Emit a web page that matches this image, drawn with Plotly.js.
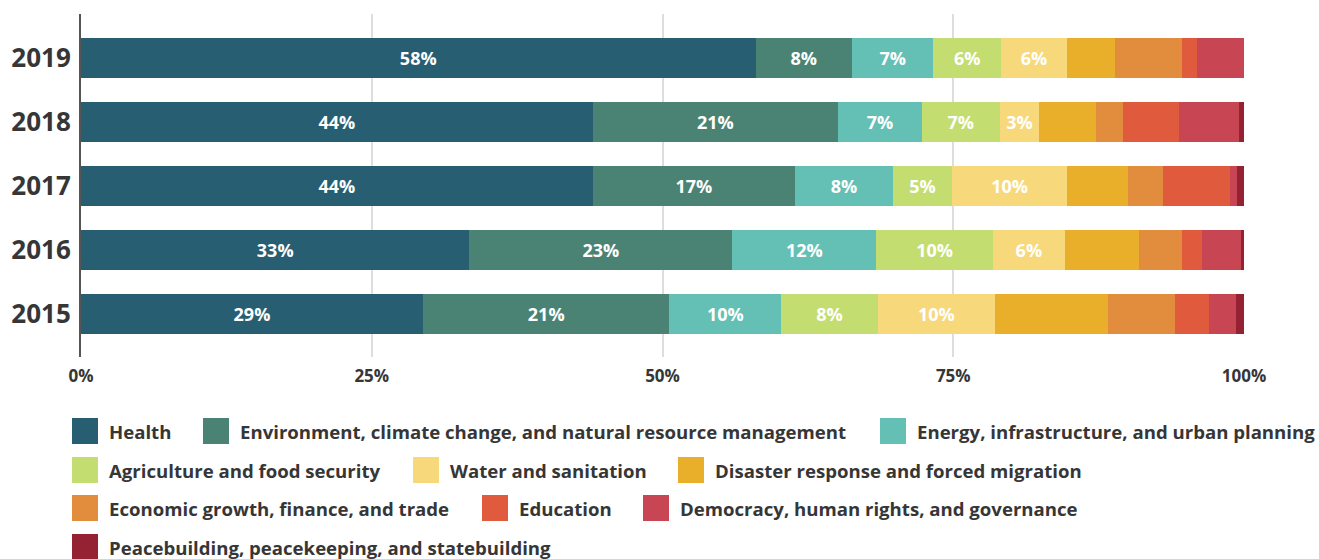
<!DOCTYPE html>
<html>
<head>
<meta charset="utf-8">
<script src="https://cdn.plot.ly/plotly-3.0.1.min.js"></script>
<style>
  html, body { margin: 0; padding: 0; background: #ffffff; }
  #chart { width: 1319px; height: 559px; }
</style>
</head>
<body>
<div id="chart"></div>
<script>
// ---- Data (years bottom to top) ----
const years = ["2015", "2016", "2017", "2018", "2019"];

const seriesNames = [
  "Health",
  "Environment, climate change, and natural resource management",
  "Energy, infrastructure, and urban planning",
  "Agriculture and food security",
  "Water and sanitation",
  "Disaster response and forced migration",
  "Economic growth, finance, and trade",
  "Education",
  "Democracy, human rights, and governance",
  "Peacebuilding, peacekeeping, and statebuilding"
];

const health      = [29.4, 33.4, 44.0, 44.0, 58.0];
const environment = [21.2, 22.6, 17.4, 21.1, 8.3];
const energy      = [9.6, 12.4, 8.4, 7.2, 7.0];
const agriculture = [8.3, 10.0, 5.1, 6.7, 5.8];
const water       = [10.1, 6.2, 9.9, 3.4, 5.7];
const disaster    = [9.7, 6.4, 5.2, 4.9, 4.1];
const economic    = [5.8, 3.7, 3.0, 2.3, 5.8];
const education   = [2.9, 1.7, 5.8, 4.8, 1.3];
const democracy   = [2.3, 3.3, 0.6, 5.2, 4.0];
const peace       = [0.7, 0.3, 0.6, 0.4, 0.0];

const seriesValues = [health, environment, energy, agriculture, water,
                      disaster, economic, education, democracy, peace];

const colors = ["#275e72", "#4a8373", "#64bfb4", "#c3dd70", "#f7d87b",
                "#e9af2b", "#e28c3d", "#e05a3d", "#c84554", "#952232"];

// only the first five series carry labels
const labelled = [true, true, true, true, true, false, false, false, false, false];

const xTicks = [0, 25, 50, 75, 100];

// ---- Layout geometry (pixels) ----
const W = 1319, H = 559;
const plotLeft = 81, plotRight = 1244, plotTop = 14, plotBottom = 357;
const FONT = "Open Sans, Noto Sans, sans-serif";
const TEXT_COLOR = "#363636";

const traces = seriesNames.map((name, i) => ({
  type: "bar",
  orientation: "h",
  name: name,
  y: years,
  x: seriesValues[i],
  width: 0.625,
  marker: { color: colors[i], line: { width: 0 } },
  texttemplate: labelled[i] ? "%{x:.0f}%" : "",
  textposition: labelled[i] ? "inside" : "none",
  insidetextanchor: "middle",
  constraintext: "none",
  textangle: 0,
  textfont: { family: FONT, size: 18, color: "#ffffff", weight: 700 },
  hoverinfo: "name+x",
  showlegend: false
}));

// ---- Custom legend (swatch + label) ----
const legendItems = [
  // [seriesIndex, swatchLeftPx, rowCenterPx]
  [0, 72, 431], [1, 203, 431], [2, 880, 431],
  [3, 72, 470], [4, 413, 470], [5, 678, 470],
  [6, 72, 508], [7, 482, 508], [8, 643, 508],
  [9, 72, 547]
];
const px2x = px => (px - plotLeft) / (plotRight - plotLeft);
const px2y = py => (plotBottom - py) / (plotBottom - plotTop);
const SW = 26;

const shapes = legendItems.map(([i, left, cy]) => ({
  type: "rect", xref: "paper", yref: "paper",
  x0: px2x(left), x1: px2x(left + SW),
  y0: px2y(cy + SW / 2), y1: px2y(cy - SW / 2),
  fillcolor: colors[i], line: { width: 0 }, layer: "above"
}));

const annotations = legendItems.map(([i, left, cy]) => ({
  xref: "paper", yref: "paper",
  x: px2x(left + SW + 9), y: px2y(cy),
  xanchor: "left", yanchor: "middle",
  text: seriesNames[i], showarrow: false,
  font: { family: FONT, size: 18.6, color: TEXT_COLOR, weight: 700 }
}));

const layout = {
  width: W, height: H,
  margin: { l: plotLeft, r: W - plotRight, t: plotTop, b: H - plotBottom, pad: 0 },
  paper_bgcolor: "#ffffff",
  plot_bgcolor: "#ffffff",
  barmode: "stack",
  bargap: 0,
  showlegend: false,
  xaxis: {
    range: [0, 100],
    tickvals: xTicks,
    ticktext: xTicks.map(v => v + "%"),
    showgrid: true, gridcolor: "#dddddd", gridwidth: 2,
    zeroline: false, showline: false, ticks: "",
    ticklabelstandoff: 7,
    tickfont: { family: FONT, size: 17, color: TEXT_COLOR, weight: 700 },
    fixedrange: true
  },
  yaxis: {
    type: "category",
    categoryorder: "array",
    categoryarray: years,
    range: [-0.672, 4.688],
    showgrid: false, zeroline: false,
    showline: true, linecolor: "#555555", linewidth: 2,
    ticks: "", ticklabelstandoff: 3,
    tickfont: { family: FONT, size: 26, color: TEXT_COLOR, weight: 700 },
    fixedrange: true
  },
  shapes: shapes,
  annotations: annotations
};

Plotly.newPlot("chart", traces, layout, { displayModeBar: false, staticPlot: true });
</script>
</body>
</html>
